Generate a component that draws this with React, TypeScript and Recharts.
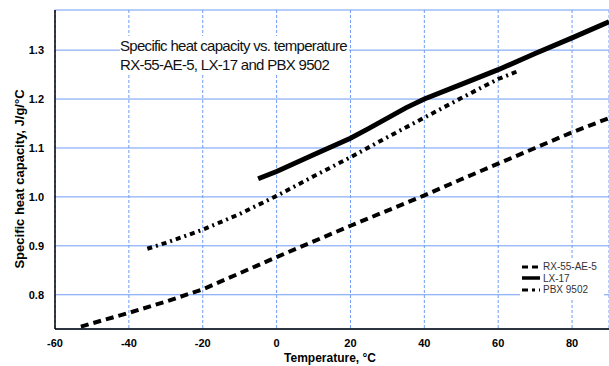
import { CartesianGrid, Line, LineChart, XAxis, YAxis } from 'recharts'

// Specific heat capacity (J/g/°C) vs. temperature (°C)
const rx55Temps = [-53, -40, -30, -20, -10, 0, 10, 20, 30, 40, 50, 60, 70, 80, 90]
const rx55Values = [0.735, 0.763, 0.786, 0.811, 0.844, 0.877, 0.909, 0.941, 0.972, 1.003, 1.036, 1.068, 1.1, 1.132, 1.161]

const lx17Temps = [-5, 0, 10, 20, 25, 35, 40, 50, 60, 70, 80, 90]
const lx17Values = [1.037, 1.052, 1.086, 1.12, 1.14, 1.182, 1.2, 1.23, 1.26, 1.293, 1.325, 1.358]

const pbxTemps = [-35, -30, -20, -10, 0, 10, 20, 30, 40, 50, 60, 65]
const pbxValues = [0.894, 0.906, 0.933, 0.965, 1.002, 1.042, 1.081, 1.122, 1.162, 1.202, 1.241, 1.256]

const xTicks = [-60, -40, -20, 0, 20, 40, 60, 80]
const yTicks = [0.8, 0.9, 1.0, 1.1, 1.2, 1.3]

const toPoints = (xs: number[], ys: number[]) => xs.map((x, i) => ({ x, y: ys[i] }))

const series = [
  { name: 'RX-55-AE-5', data: toPoints(rx55Temps, rx55Values), dash: '8 5', width: 4 },
  { name: 'LX-17', data: toPoints(lx17Temps, lx17Values), dash: undefined, width: 5 },
  { name: 'PBX 9502', data: toPoints(pbxTemps, pbxValues), dash: '5 4 2 4', width: 4 },
]

const GRID = '#6f9cf5'
const FONT = 'Liberation Sans, Arial, sans-serif'
const tickStyle = { fontSize: 11, fontWeight: 700, fill: '#000', fontFamily: FONT }

export default function App() {
  return (
    <div style={{ position: 'absolute', left: 0, top: 0, width: 609, height: 366, background: '#fff' }}>
      <LineChart width={609} height={366} margin={{ top: 10, right: 0, bottom: 0, left: 0 }}>
        <CartesianGrid stroke={GRID} vertical={false} />
        <CartesianGrid stroke={GRID} horizontal={false} strokeDasharray="3 2" />
        <XAxis
          dataKey="x"
          type="number"
          domain={[-60, 90]}
          ticks={xTicks}
          allowDataOverflow
          height={37}
          tickLine={false}
          axisLine={{ stroke: '#000', strokeWidth: 1.5 }}
          tick={tickStyle}
          tickMargin={4}
          label={{
            content: () => (
              <text x={330} y={362} textAnchor="middle" fontSize={12} fontWeight={700} fontFamily={FONT} fill="#000">
                Temperature, °C
              </text>
            ),
          }}
        />
        <XAxis xAxisId="top" orientation="top" dataKey="x" type="number" domain={[-60, 90]} height={0} tick={false} tickLine={false} axisLine={{ stroke: '#000', strokeWidth: 1.5 }} />
        <YAxis
          type="number"
          domain={[0.73, 1.382]}
          ticks={yTicks}
          allowDataOverflow
          width={55}
          tickLine={false}
          axisLine={{ stroke: '#000', strokeWidth: 1.5 }}
          tick={tickStyle}
          tickMargin={5}
          tickFormatter={(v: number) => v.toFixed(1)}
          label={{
            content: () => (
              <text x={24} y={179} transform="rotate(-90 24 179)" textAnchor="middle" fontSize={13} fontWeight={700} fontFamily={FONT} fill="#000">
                Specific heat capacity, J/g/°C
              </text>
            ),
          }}
        />
        {series.map(s => (
          <Line
            key={s.name}
            data={s.data}
            dataKey="y"
            name={s.name}
            type="linear"
            stroke="#000"
            strokeWidth={s.width}
            strokeDasharray={s.dash}
            dot={false}
            isAnimationActive={false}
          />
        ))}
      </LineChart>

      <div
        style={{
          position: 'absolute',
          left: 120,
          top: 36,
          background: '#fff',
          fontFamily: FONT,
          fontSize: 15,
          letterSpacing: -0.7,
          lineHeight: '19px',
          color: '#111',
          paddingRight: 2,
        }}
      >
        <div>Specific heat capacity vs. temperature</div>
        <div>RX-55-AE-5, LX-17 and PBX 9502</div>
      </div>

      <div
        style={{
          position: 'absolute',
          left: 520,
          top: 259,
          width: 84,
          background: '#fff',
          fontFamily: FONT,
          fontSize: 10,
          lineHeight: '11.5px',
          color: '#333',
          padding: '2px 0',
        }}
      >
        {series.map(s => (
          <div key={s.name} style={{ display: 'flex', alignItems: 'center' }}>
            <svg width={20} height={10} style={{ marginRight: 3 }}>
              <line x1={2} y1={5} x2={20} y2={5} stroke="#000" strokeWidth={s.name === 'LX-17' ? 3.5 : 3} strokeDasharray={s.name === 'RX-55-AE-5' ? '6 4' : s.name === 'PBX 9502' ? '6 4 3 4' : undefined} />
            </svg>
            <span>{s.name}</span>
          </div>
        ))}
      </div>
    </div>
  )
}
